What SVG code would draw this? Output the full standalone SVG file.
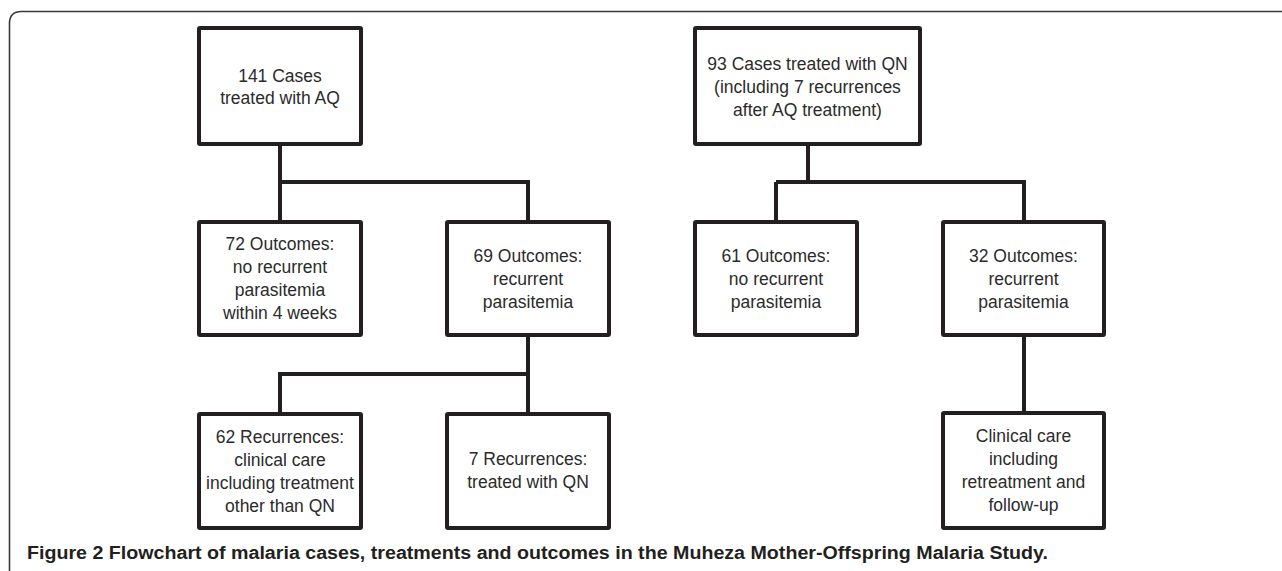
<svg xmlns="http://www.w3.org/2000/svg" width="1282" height="571" viewBox="0 0 1282 571">
<style>
.box{fill:#fff;stroke:#231f20;stroke-width:4}
.t{font-family:"Liberation Sans",Arial,sans-serif;font-size:17.5px;fill:#2b2b2b;text-anchor:middle}
.c{fill:none;stroke:#231f20;stroke-width:4}
.cap{font-family:"Liberation Sans",Arial,sans-serif;font-size:18px;font-weight:bold;fill:#231f20}
</style>
<rect width="1282" height="571" fill="#fff"/>
<path d="M9.5,571 V23.5 Q9.5,11.5 21.5,11.5 H1282" fill="none" stroke="#3a3a3a" stroke-width="1.6"/>
<g id="connectors">
<path class="c" d="M280,144 V222 M280,182 H528 V222"/>
<path class="c" d="M528,335 V414 M528,374 H280 V414"/>
<path class="c" d="M808,144 V182 M776,182 H1024 V222 M776,182 V222"/>
<path class="c" d="M1024,335 V413"/>
</g>
<g id="n141">
<rect class="box" x="199" y="28" width="162" height="116" rx="1"/>
<text class="t" x="280" y="82">141 Cases</text>
<text class="t" x="280" y="104">treated with AQ</text>
</g>
<g id="n72">
<rect class="box" x="199" y="222" width="162" height="113" rx="1"/>
<text class="t" x="280" y="250">72 Outcomes:</text>
<text class="t" x="280" y="273">no recurrent</text>
<text class="t" x="280" y="296">parasitemia</text>
<text class="t" x="280" y="319">within 4 weeks</text>
</g>
<g id="n69">
<rect class="box" x="447" y="222" width="162" height="113" rx="1"/>
<text class="t" x="528" y="262">69 Outcomes:</text>
<text class="t" x="528" y="285">recurrent</text>
<text class="t" x="528" y="308">parasitemia</text>
</g>
<g id="n62">
<rect class="box" x="199" y="414" width="162" height="114" rx="1"/>
<text class="t" x="280" y="443">62 Recurrences:</text>
<text class="t" x="280" y="466">clinical care</text>
<text class="t" x="280" y="489">including treatment</text>
<text class="t" x="280" y="512">other than QN</text>
</g>
<g id="n7">
<rect class="box" x="447" y="414" width="162" height="114" rx="1"/>
<text class="t" x="528" y="465">7 Recurrences:</text>
<text class="t" x="528" y="488">treated with QN</text>
</g>
<g id="n93">
<rect class="box" x="695" y="28" width="225" height="116" rx="1"/>
<text class="t" x="807.5" y="70">93 Cases treated with QN</text>
<text class="t" x="807.5" y="93">(including 7 recurrences</text>
<text class="t" x="807.5" y="116">after AQ treatment)</text>
</g>
<g id="n61">
<rect class="box" x="695" y="222" width="162" height="113" rx="1"/>
<text class="t" x="776" y="262">61 Outcomes:</text>
<text class="t" x="776" y="285">no recurrent</text>
<text class="t" x="776" y="308">parasitemia</text>
</g>
<g id="n32">
<rect class="box" x="943" y="222" width="161" height="113" rx="1"/>
<text class="t" x="1023.5" y="262">32 Outcomes:</text>
<text class="t" x="1023.5" y="285">recurrent</text>
<text class="t" x="1023.5" y="308">parasitemia</text>
</g>
<g id="ncc">
<rect class="box" x="943" y="413" width="161" height="115" rx="1"/>
<text class="t" x="1023.5" y="442">Clinical care</text>
<text class="t" x="1023.5" y="465">including</text>
<text class="t" x="1023.5" y="488">retreatment and</text>
<text class="t" x="1023.5" y="511">follow-up</text>
</g>
<text class="cap" x="27" y="559" textLength="1021" lengthAdjust="spacingAndGlyphs">Figure 2 Flowchart of malaria cases, treatments and outcomes in the Muheza Mother-Offspring Malaria Study.</text>
</svg>
